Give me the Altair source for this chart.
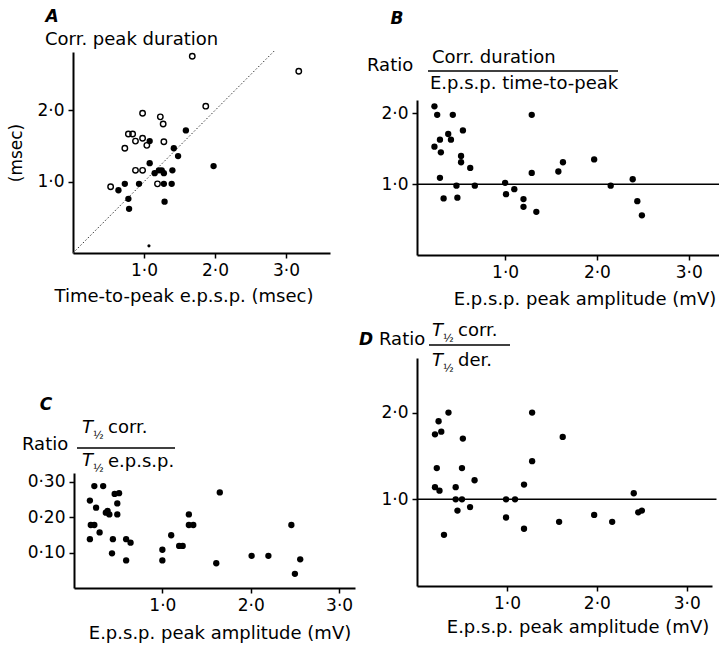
import altair as alt
import pandas as pd

FONT = "DejaVu Sans"

# ---------------- data ----------------
# Panel A: time-to-peak e.p.s.p. (msec) vs corr. peak duration (msec)
a_open_x = [1.68, 3.18, 1.87, 0.98, 1.23, 1.27, 0.78, 0.84, 0.88, 0.98, 1.04, 1.28, 0.73, 0.88, 0.98, 0.53, 1.19]
a_open_y = [2.76, 2.55, 2.06, 1.96, 1.91, 1.81, 1.67, 1.67, 1.57, 1.61, 1.51, 1.56, 1.47, 1.16, 1.16, 0.93, 0.97]
a_fill_x = [1.59, 1.08, 1.42, 1.48, 1.08, 1.98, 1.15, 1.21, 1.25, 1.28, 1.40, 0.73, 0.93, 1.28, 1.39, 0.64, 0.78, 0.79, 1.29]
a_fill_y = [1.72, 1.57, 1.47, 1.36, 1.26, 1.22, 1.12, 1.16, 1.16, 1.12, 1.16, 0.97, 0.97, 0.97, 0.97, 0.88, 0.76, 0.62, 0.72]
a_small_x = [1.07]
a_small_y = [0.10]
a_diag = [0.0, 2.85]

# Panel B: peak amplitude (mV) vs ratio corr. duration / e.p.s.p. time-to-peak
b_x = [0.23, 0.26, 0.43, 1.29, 0.38, 0.54, 0.29, 0.41, 0.23, 0.30, 0.52, 0.52, 0.62, 0.29, 0.47, 0.67,
       0.33, 0.48, 1.00, 1.01, 1.10, 1.20, 1.20, 1.34, 1.29, 1.58, 1.63, 1.97, 2.15, 2.39, 2.44, 2.49]
b_y = [2.10, 1.98, 1.98, 1.98, 1.71, 1.76, 1.63, 1.63, 1.53, 1.45, 1.40, 1.31, 1.23, 1.09, 0.98, 0.98,
       0.80, 0.81, 1.02, 0.86, 0.93, 0.79, 0.68, 0.61, 1.16, 1.18, 1.31, 1.35, 0.98, 1.07, 0.76, 0.56]

# Panel C: peak amplitude (mV) vs ratio T1/2 corr. / T1/2 e.p.s.p.
c_x = [0.18, 0.23, 0.33, 0.25, 0.19, 0.23, 0.29, 0.18, 0.36, 0.38, 0.40, 0.46, 0.51, 0.49, 0.49, 0.44, 0.43,
       0.59, 0.64, 0.59, 1.00, 1.00, 1.10, 1.19, 1.23, 1.30, 1.30, 1.35, 1.65, 1.61, 2.01, 2.20, 2.46, 2.56, 2.50]
c_y = [0.247, 0.288, 0.288, 0.227, 0.178, 0.178, 0.157, 0.138, 0.213, 0.218, 0.208, 0.266, 0.268, 0.239, 0.208,
       0.138, 0.098, 0.138, 0.128, 0.078, 0.108, 0.078, 0.149, 0.119, 0.119, 0.208, 0.178, 0.178, 0.270, 0.070,
       0.091, 0.091, 0.178, 0.081, 0.040]

# Panel D: peak amplitude (mV) vs ratio T1/2 corr. / T1/2 der.
d_x = [0.35, 1.28, 0.24, 0.27, 0.20, 0.51, 1.62, 1.28, 0.22, 0.50, 0.64, 0.20, 0.25, 0.43, 1.19, 2.41,
       0.43, 0.50, 0.99, 1.09, 0.45, 0.59, 0.99, 1.19, 1.58, 1.97, 2.17, 2.46, 2.50, 0.30]
d_y = [2.00, 2.00, 1.90, 1.78, 1.75, 1.70, 1.72, 1.44, 1.36, 1.36, 1.22, 1.14, 1.10, 1.14, 1.17, 1.07,
       1.00, 1.00, 1.00, 1.00, 0.87, 0.91, 0.79, 0.66, 0.74, 0.82, 0.74, 0.85, 0.87, 0.59]

ref_line = [1.0]
x_ticks = [1, 2, 3]
ratio_ticks = [1, 2]
c_ticks = [0.1, 0.2, 0.3]

W, H = 719, 649
dummy = pd.DataFrame({"k": [0]})


def lab(fmt):
    return "replace(format(datum.value, '" + fmt + "'), '.', '\u00b7')"


def axis(orient, offset, values, fmt):
    return alt.Axis(orient=orient, offset=offset, values=values, labelExpr=lab(fmt), title=None,
                    grid=False, domainColor="black", domainWidth=2, tickColor="black", tickWidth=1.5,
                    tickSize=5, labelFont=FONT, labelFontSize=17, labelColor="black",
                    labelPadding=4, labelFlush=False, labelOverlap=False)


def xy_df(xs, ys):
    return pd.DataFrame({"x": xs, "y": ys})


def filled(c):
    return c.mark_circle(size=40, color="black", opacity=1)


def hollow(c):
    return c.mark_point(shape="circle", filled=False, size=30, strokeWidth=1.4, color="black", opacity=1)


def tiny(c):
    return c.mark_circle(size=10, color="black", opacity=1)


def dotted(c):
    return c.mark_line(color="#333333", strokeWidth=1, strokeDash=[1.5, 2])


def hrule(c):
    return c.mark_rule(color="black", strokeWidth=1.5)


def panel(layers_spec, xscale, yscale, xax, yax):
    charts = []
    for df, mk in layers_spec:
        enc = dict(x=alt.X("x:Q", scale=xscale, axis=xax), y=alt.Y("y:Q", scale=yscale, axis=yax))
        if "x2" in df.columns:
            enc["x2"] = alt.X2("x2:Q")
        charts.append(mk(alt.Chart(df)).encode(**enc))
    return alt.layer(*charts)


# ---------------- panel A ----------------
axs = alt.Scale(domain=[0, 3.62], range=[73, 330], nice=False, zero=False)
ays = alt.Scale(domain=[0, 2.82], range=[253, 52], nice=False, zero=False)
panelA = panel([
    (xy_df(a_diag, a_diag), dotted),
    (xy_df(a_open_x, a_open_y), hollow),
    (xy_df(a_fill_x, a_fill_y), filled),
    (xy_df(a_small_x, a_small_y), tiny),
], axs, ays, axis("bottom", 253 - H, x_ticks, ".1f"), axis("left", -73, ratio_ticks, ".1f"))

# ---------------- panel B ----------------
b_dom = [0.04, 3.33]
bxs = alt.Scale(domain=b_dom, range=[417, 719], nice=False, zero=False)
bys = alt.Scale(domain=[0, 2.19], range=[255, 100], nice=False, zero=False)
panelB = panel([
    (xy_df(b_x, b_y), filled),
    (pd.DataFrame({"x": [b_dom[0]], "x2": [b_dom[1]], "y": ref_line}), hrule),
], bxs, bys, axis("bottom", 255 - H, x_ticks, ".1f"), axis("left", -417, ratio_ticks, ".1f"))

# ---------------- panel C ----------------
cxs = alt.Scale(domain=[0, 3.18], range=[74, 355], nice=False, zero=False)
cys = alt.Scale(domain=[0, 0.325], range=[588, 473], nice=False, zero=False)
panelC = panel([
    (xy_df(c_x, c_y), filled),
], cxs, cys, axis("bottom", 588 - H, x_ticks, ".1f"), axis("left", -74, c_ticks, ".2f"))

# ---------------- panel D ----------------
d_dom = [0.0, 3.28]
dxs = alt.Scale(domain=d_dom, range=[417, 712], nice=False, zero=False)
dys = alt.Scale(domain=[0, 2.63], range=[586, 358], nice=False, zero=False)
panelD = panel([
    (xy_df(d_x, d_y), filled),
    (pd.DataFrame({"x": [d_dom[0]], "x2": [3.33], "y": ref_line}), hrule),
], dxs, dys, axis("bottom", 586 - H, x_ticks, ".1f"), axis("left", -417, ratio_ticks, ".1f"))


# ---------------- text annotations ----------------
def txt(s, x, y, size=18, align="left", style="normal", weight="normal", angle=0):
    return alt.Chart(dummy).mark_text(text=s, fontSize=size, font=FONT, align=align, baseline="middle",
                                      fontStyle=style, fontWeight=weight, angle=angle, color="black").encode(
        x=alt.value(x), y=alt.value(y))


def hbar(x1, x2, y):
    return alt.Chart(dummy).mark_rule(color="black", strokeWidth=1.5).encode(
        x=alt.value(x1), x2=alt.value(x2), y=alt.value(y))


texts = [
    # A
    txt("A", 52, 17, size=17, align="center", style="italic", weight="bold"),
    txt("Corr. peak duration", 45, 40),
    txt("(msec)", 17, 153, size=17, align="center", angle=270),
    txt("Time-to-peak e.p.s.p. (msec)", 184, 297, align="center"),
    # B
    txt("B", 397, 19, size=17, align="center", style="italic", weight="bold"),
    txt("Ratio", 367, 66),
    txt("Corr. duration", 432, 58),
    hbar(428, 618, 71),
    txt("E.p.s.p. time-to-peak", 430, 84),
    txt("E.p.s.p. peak amplitude (mV)", 585, 300, align="center"),
    # C
    txt("C", 46, 405, size=17, align="center", style="italic", weight="bold"),
    txt("Ratio", 22, 445),
    txt("T", 82, 428, style="italic"),
    txt("\u00bd", 93, 436, size=11),
    txt("corr.", 108, 428),
    hbar(77, 175, 448),
    txt("T", 82, 461, style="italic"),
    txt("\u00bd", 93, 469, size=11),
    txt("e.p.s.p.", 108, 462),
    txt("E.p.s.p. peak amplitude (mV)", 220, 634, align="center"),
    # D
    txt("D", 366, 340, size=17, align="center", style="italic", weight="bold"),
    txt("Ratio", 379, 340),
    txt("T", 432, 331, style="italic"),
    txt("\u00bd", 443, 339, size=11),
    txt("corr.", 458, 331),
    hbar(429, 510, 345),
    txt("T", 432, 361, style="italic"),
    txt("\u00bd", 443, 369, size=11),
    txt("der.", 458, 361),
    txt("E.p.s.p. peak amplitude (mV)", 578, 628, align="center"),
]

chart = alt.layer(panelA, panelB, panelC, panelD, *texts).resolve_scale(
    x="independent", y="independent"
).properties(
    width=W, height=H, padding=0, autosize=alt.AutoSizeParams(type="none"), background="white"
).configure_view(stroke="transparent").configure_axis(grid=False)

chart.save("out.html", embed_options={"renderer": "svg", "actions": False})
